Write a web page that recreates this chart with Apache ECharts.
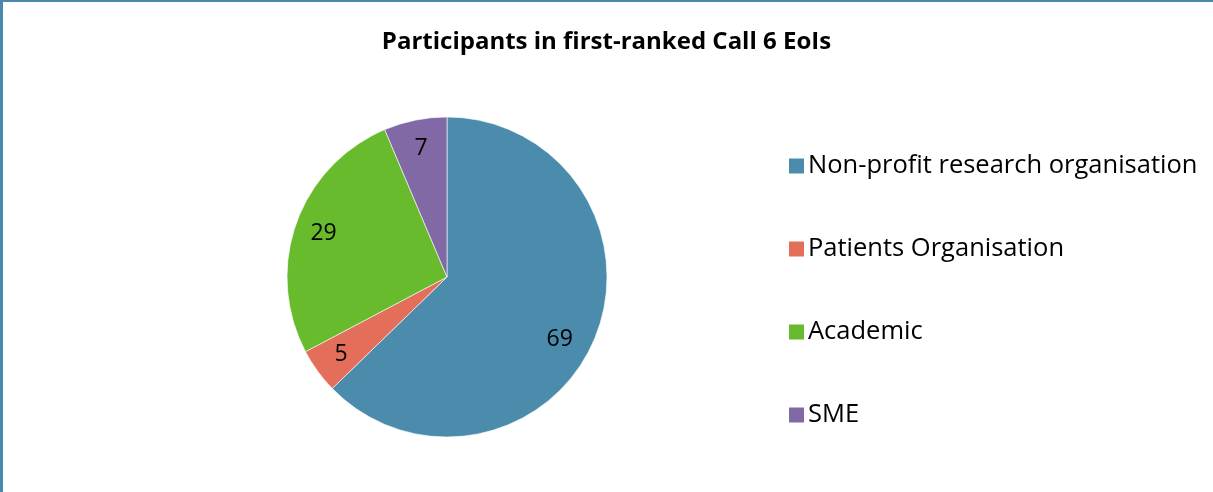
<!DOCTYPE html>
<html>
<head>
<meta charset="utf-8">
<script src="https://cdn.jsdelivr.net/npm/echarts@6/dist/echarts.min.js"></script>
<style>
html, body { margin: 0; padding: 0; background: #fff; overflow: hidden; }
#frame {
    position: absolute; left: 0; top: 0;
    width: 1213px; height: 492px;
    box-sizing: border-box;
    border-top: 2px solid #4A89AB;
    border-left: 3px solid #4A89AB;
    pointer-events: none;
}
#chart { position: absolute; left: 0; top: 0; width: 1213px; height: 492px; }
</style>
</head>
<body>
<div id="chart"></div>
<div id="frame"></div>
<script>
var titleText = 'Participants in first-ranked Call 6 EoIs';
var categories = ['Non-profit research organisation', 'Patients Organisation', 'Academic', 'SME'];
var values = [69, 5, 29, 7];
var colors = ['#4B8BAC', '#E36E59', '#67BB2C', '#8169A5'];

var pieData = categories.map(function (c, i) {
    return { name: c, value: values[i] };
});

var myChart = echarts.init(document.getElementById('chart'));
var option = {
    color: colors,
    animation: false,
    title: {
        text: titleText,
        left: 'center',
        top: 25,
        textStyle: {
            fontFamily: 'Open Sans',
            fontSize: 24,
            fontWeight: 'bold',
            color: '#000'
        }
    },
    legend: {
        orient: 'vertical',
        left: 782,
        top: 148,
        itemWidth: 17,
        itemHeight: 17,
        itemGap: 57,
        icon: 'rect',
        data: categories,
        textStyle: {
            fontFamily: 'Open Sans',
            fontSize: 25.5,
            color: '#000',
            padding: [0, 0, 0, -2]
        }
    },
    series: [
        {
            // the slices
            type: 'pie',
            center: [447, 277],
            radius: [0, 160],
            startAngle: 90,
            clockwise: true,
            label: { show: false },
            labelLine: { show: false },
            itemStyle: { borderColor: '#ffffff', borderWidth: 0.6 },
            emphasis: { disabled: true },
            data: pieData
        },
        {
            // transparent ring used only to place the value labels
            type: 'pie',
            center: [447, 277],
            radius: [96, 160],
            startAngle: 90,
            clockwise: true,
            silent: true,
            itemStyle: { color: 'transparent' },
            label: {
                show: true,
                position: 'inner',
                formatter: '{c}',
                fontFamily: 'Open Sans',
                fontSize: 23,
                color: '#000'
            },
            // excel nudges the big slice's label a bit lower
            labelLayout: function (params) {
                if (params.dataIndex === 0) {
                    return { dx: -8, dy: 11 };
                }
            },
            labelLine: { show: false },
            emphasis: { disabled: true },
            data: pieData
        }
    ]
};
myChart.setOption(option);
</script>
</body>
</html>
